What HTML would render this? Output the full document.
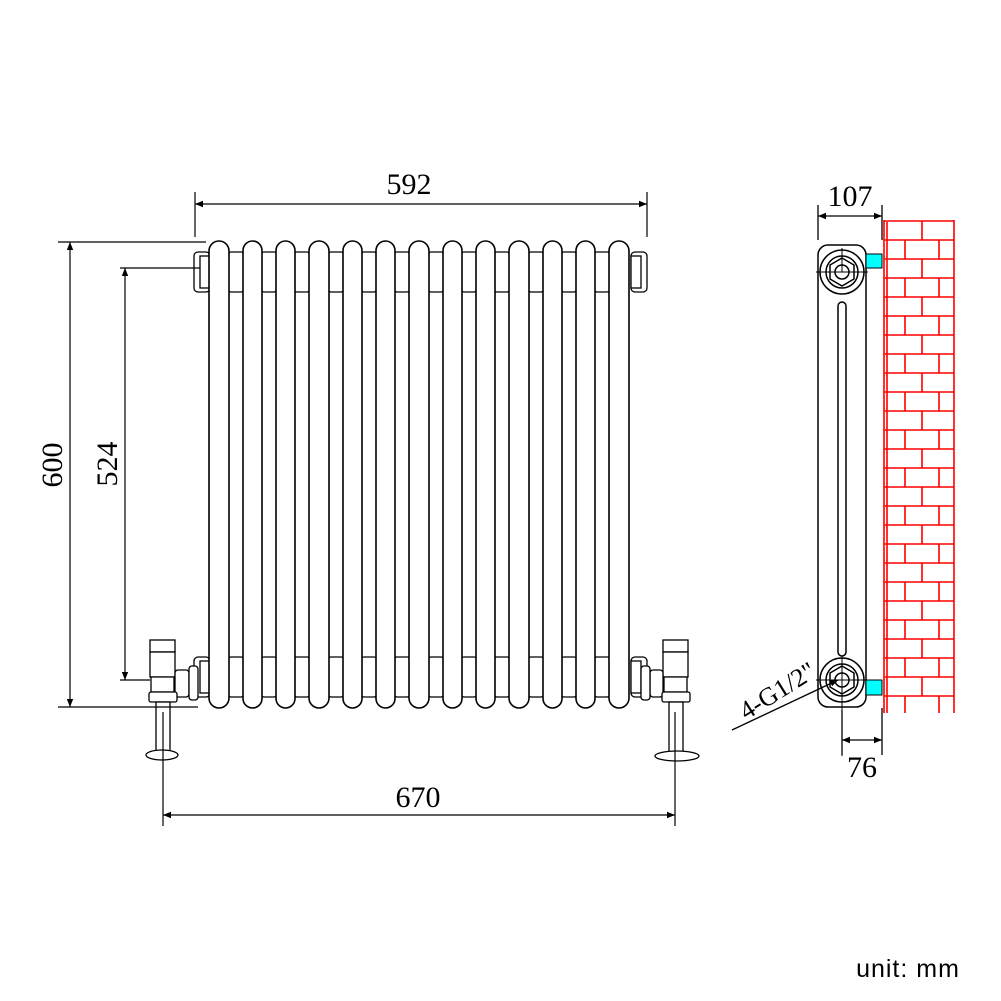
<!DOCTYPE html>
<html><head><meta charset="utf-8"><style>html,body{margin:0;padding:0;background:#fff}svg{display:block}</style></head>
<body>
<svg width="1001" height="1001" viewBox="0 0 1001 1001" xmlns="http://www.w3.org/2000/svg">
<defs>
<marker id="ar" viewBox="0 0 10 10" refX="10" refY="5" markerWidth="12" markerHeight="8" markerUnits="userSpaceOnUse" orient="auto-start-reverse"><path d="M0,1 L10,5 L0,9 z" fill="#000"/></marker>
<clipPath id="wall"><rect x="884" y="220" width="70" height="493"/></clipPath>
</defs>
<g fill="#fff" stroke="#000" stroke-width="1.3">
<rect x="194" y="252" width="16" height="40" rx="4"/>
<rect x="200" y="256" width="10" height="32"/>
<rect x="631" y="252" width="16" height="40" rx="4"/>
<rect x="631" y="256" width="10" height="32"/>
<rect x="194" y="657" width="16" height="40" rx="4"/>
<rect x="200" y="661" width="10" height="32"/>
<rect x="631" y="657" width="16" height="40" rx="4"/>
<rect x="631" y="661" width="10" height="32"/>
<rect x="228" y="252" width="16" height="40" rx="3"/><rect x="261" y="252" width="16" height="40" rx="3"/><rect x="294" y="252" width="16" height="40" rx="3"/><rect x="328" y="252" width="16" height="40" rx="3"/><rect x="361" y="252" width="16" height="40" rx="3"/><rect x="394" y="252" width="16" height="40" rx="3"/><rect x="428" y="252" width="16" height="40" rx="3"/><rect x="461" y="252" width="16" height="40" rx="3"/><rect x="494" y="252" width="16" height="40" rx="3"/><rect x="528" y="252" width="16" height="40" rx="3"/><rect x="561" y="252" width="16" height="40" rx="3"/><rect x="594" y="252" width="16" height="40" rx="3"/>
<rect x="228" y="657" width="16" height="40" rx="3"/><rect x="261" y="657" width="16" height="40" rx="3"/><rect x="294" y="657" width="16" height="40" rx="3"/><rect x="328" y="657" width="16" height="40" rx="3"/><rect x="361" y="657" width="16" height="40" rx="3"/><rect x="394" y="657" width="16" height="40" rx="3"/><rect x="428" y="657" width="16" height="40" rx="3"/><rect x="461" y="657" width="16" height="40" rx="3"/><rect x="494" y="657" width="16" height="40" rx="3"/><rect x="528" y="657" width="16" height="40" rx="3"/><rect x="561" y="657" width="16" height="40" rx="3"/><rect x="594" y="657" width="16" height="40" rx="3"/>
</g>
<g fill="#fff" stroke="#000" stroke-width="1.6">
<rect x="209" y="241" width="20" height="467" rx="10"/>
<rect x="243" y="241" width="19" height="467" rx="9.5"/>
<rect x="276" y="241" width="19" height="467" rx="9.5"/>
<rect x="309" y="241" width="20" height="467" rx="10"/>
<rect x="343" y="241" width="19" height="467" rx="9.5"/>
<rect x="376" y="241" width="19" height="467" rx="9.5"/>
<rect x="409" y="241" width="20" height="467" rx="10"/>
<rect x="443" y="241" width="19" height="467" rx="9.5"/>
<rect x="476" y="241" width="19" height="467" rx="9.5"/>
<rect x="509" y="241" width="20" height="467" rx="10"/>
<rect x="543" y="241" width="19" height="467" rx="9.5"/>
<rect x="576" y="241" width="19" height="467" rx="9.5"/>
<rect x="609" y="241" width="20" height="467" rx="10"/>
</g>
<g fill="#fff" stroke="#000" stroke-width="1.3">
<rect x="150" y="640" width="25" height="12"/>
<rect x="150" y="652" width="25" height="25"/>
<path d="M151,677 h23 v15 h-23 z"/>
<rect x="175" y="670" width="14" height="27" rx="3"/>
<rect x="189" y="666" width="9" height="34" rx="3"/>
<rect x="149" y="692" width="28" height="10" rx="2"/>
<rect x="156" y="702" width="14" height="52"/>
<ellipse cx="162" cy="755" rx="16" ry="5"/>
<rect x="663" y="640" width="25" height="12"/>
<rect x="663" y="652" width="25" height="25"/>
<path d="M664,677 h23 v15 h-23 z"/>
<rect x="650" y="670" width="13" height="27" rx="3"/>
<rect x="641" y="666" width="9" height="34" rx="3"/>
<rect x="662" y="692" width="28" height="10" rx="2"/>
<rect x="669" y="702" width="14" height="52"/>
<ellipse cx="677" cy="756" rx="22" ry="5"/>
</g>
<g stroke="#000" stroke-width="1.2" fill="none">
<path d="M195,192v45M647,192v45"/>
<line x1="195" y1="204" x2="647" y2="204" marker-start="url(#ar)" marker-end="url(#ar)"/>
<path d="M58,242h148M58,707h140"/>
<line x1="70" y1="242" x2="70" y2="707" marker-start="url(#ar)" marker-end="url(#ar)"/>
<path d="M120,268h80M120,680h30"/>
<line x1="125" y1="268" x2="125" y2="680" marker-start="url(#ar)" marker-end="url(#ar)"/>
<path d="M163,712v114M675,712v114"/>
<line x1="163" y1="815" x2="675" y2="815" marker-start="url(#ar)" marker-end="url(#ar)"/>
</g>
<g font-family="'Liberation Serif',serif" font-size="30" fill="#000" text-anchor="middle">
<text x="409" y="194">592</text>
<text x="418" y="807">670</text>
<text transform="translate(62,465) rotate(-90)">600</text>
<text transform="translate(117,464) rotate(-90)">524</text>
<text x="850" y="206">107</text>
<text x="862" y="777">76</text>
<text transform="translate(782,698) rotate(-32)" font-size="26">4-G1/2"</text>
</g>
<g fill="#fff" stroke="#000" stroke-width="1.5">
<rect x="818" y="245" width="48" height="462" rx="10"/>
<rect x="838" y="302" width="8" height="354" rx="4"/>
<circle cx="842" cy="272" r="22"/><circle cx="842" cy="272" r="16"/>
<polygon points="842,258 854,265 854,279 842,286 830,279 830,265"/>
<circle cx="842" cy="272" r="7"/>
<circle cx="842" cy="680" r="22"/><circle cx="842" cy="680" r="16"/>
<polygon points="842,666 854,673 854,687 842,694 830,687 830,673"/>
<circle cx="842" cy="680" r="7"/>
</g>
<g stroke="#000" stroke-width="1" fill="none">
<path d="M816,272h52M842,248v24M816,680h52M842,656v100"/>
</g>
<rect x="866" y="254" width="16" height="14" fill="#00ffff" stroke="#000" stroke-width="1"/>
<rect x="866" y="680" width="16" height="15" fill="#00ffff" stroke="#000" stroke-width="1"/>
<g stroke="#000" stroke-width="1.3" fill="none">
<path d="M818,205v35M882,205v35"/>
<line x1="818" y1="216" x2="882" y2="216" marker-start="url(#ar)" marker-end="url(#ar)"/>
<path d="M842,710v45M882,708v47"/>
<line x1="842" y1="740" x2="882" y2="740" marker-start="url(#ar)" marker-end="url(#ar)"/>
<line x1="732" y1="730" x2="838" y2="680" marker-end="url(#ar)"/>
</g>
<g stroke="#ff0000" stroke-width="1.6" fill="none">
<path d="M884,220V713M954,220V713M887,222V713"/>
</g>
<g stroke="#ff0000" stroke-width="1.6" fill="none" clip-path="url(#wall)">
<path d="M884,221h70M884,240h70M884,259h70M884,278h70M884,297h70M884,316h70M884,335h70M884,354h70M884,373h70M884,392h70M884,411h70M884,430h70M884,449h70M884,468h70M884,487h70M884,506h70M884,525h70M884,544h70M884,563h70M884,582h70M884,601h70M884,620h70M884,639h70M884,658h70M884,677h70M884,696h70"/>
<path d="M922,221v19M905,240v19M939,240v19M922,259v19M905,278v19M939,278v19M922,297v19M905,316v19M939,316v19M922,335v19M905,354v19M939,354v19M922,373v19M905,392v19M939,392v19M922,411v19M905,430v19M939,430v19M922,449v19M905,468v19M939,468v19M922,487v19M905,506v19M939,506v19M922,525v19M905,544v19M939,544v19M922,563v19M905,582v19M939,582v19M922,601v19M905,620v19M939,620v19M922,639v19M905,658v19M939,658v19M922,677v19M905,696v19M939,696v19"/>
</g>
<text x="908" y="977" font-family="'Liberation Sans',sans-serif" font-size="25" letter-spacing="1" text-anchor="middle" fill="#000">unit: mm</text>
</svg>
</body></html>
